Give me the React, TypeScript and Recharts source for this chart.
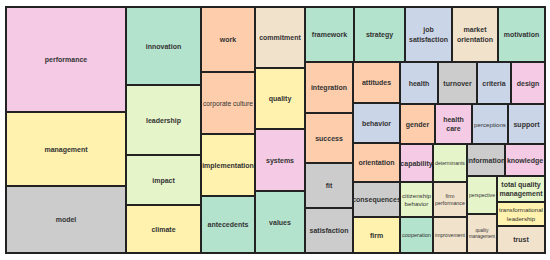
import React from 'react';
import { Treemap } from 'recharts';

// keyword terms in layout order (the treemap keeps data order, no sorting)
const terms = [
    'performance', 'management', 'model',
    'innovation', 'leadership', 'impact', 'climate',
    'work', 'corporate culture', 'implementation', 'antecedents',
    'commitment', 'quality', 'systems', 'values',
    'framework', 'strategy', 'job\nsatisfaction', 'market\norientation', 'motivation',
    'integration', 'success', 'fit', 'satisfaction',
    'attitudes', 'behavior', 'orientation', 'consequences', 'firm',
    'health', 'turnover', 'criteria', 'design',
    'gender', 'health\ncare', 'perceptions', 'support',
    'capability', 'citizenship\nbehavior', 'cooperation',
    'determinants', 'firm\nperformance', 'improvement',
    'information', 'knowledge',
    'perspective', 'quality\nmanagement',
    'total quality\nmanagement', 'transformational\nleadership', 'trust',
];

// relative weight of each term
const sizes = [
    12600, 8820, 8100,
    5850, 5250, 3750, 3600,
    3510, 3348, 3348, 3078,
    3050, 3050, 3100, 3100,
    2720, 2778, 2585, 2530, 2587,
    2448, 2400, 2160, 2160,
    1927, 1880, 1833, 1645, 1692,
    1596, 1638, 1428, 1428,
    1400, 1480, 1440, 1480,
    1254, 1155, 1188,
    1292, 1190, 1224,
    1216, 1280,
    1140, 1170,
    1248, 1152, 1296,
];

// cluster of each term
const clusters = [
    3, 5, 7,
    0, 4, 4, 5,
    1, 1, 5, 0,
    6, 5, 3, 0,
    0, 0, 2, 6, 0,
    1, 1, 7, 7,
    1, 2, 1, 7, 5,
    2, 7, 2, 3,
    1, 3, 2, 2,
    3, 4, 0,
    4, 6, 6,
    7, 3,
    4, 6,
    4, 5, 6,
];

const palette = ['#b3e2cd', '#fdcdac', '#cbd5e8', '#f4cae4', '#e6f5c9', '#fff2ae', '#f1e2cc', '#cccccc'];

const data = terms.map((name, i) => ({ name, size: sizes[i], cluster: clusters[i] }));

const FONT = '"Liberation Sans", Arial, sans-serif';
const ctx = typeof document !== 'undefined' ? document.createElement('canvas').getContext('2d') : null;

const textWidth = (s: string, weight: string, size: number) => {
    if (!ctx) return s.length * size * 0.56;
    ctx.font = `${weight} ${size}px ${FONT}`;
    return ctx.measureText(s).width;
};

const TermCell = (props: any) => {
    const { x, y, width, height, depth, index, name } = props;
    if (depth !== 1) return null;
    const cluster = props.cluster ?? clusters[index];
    const lines = String(name).split('\n');

    // bold 7px when it fits, otherwise shrink to the cell width
    let size = 7;
    let weight = 'bold';
    const boldW = Math.max(...lines.map((l) => textWidth(l, 'bold', 7)));
    if (boldW > width + 2) {
        weight = 'normal';
        const em = Math.max(...lines.map((l) => textWidth(l, 'normal', 10))) / 10;
        size = Math.min(7, (width - 4) / em);
    }
    const lh = size * 1.35;
    const cx = x + width / 2;
    const top = y + height / 2 - ((lines.length - 1) * lh) / 2;

    return (
        <g>
            <rect
                x={x}
                y={y}
                width={width}
                height={height}
                fill={palette[cluster]}
                stroke="#222"
                strokeWidth={2}
            />
            {lines.map((l, i) => (
                <text
                    key={i}
                    x={cx}
                    y={top + i * lh}
                    textAnchor="middle"
                    dominantBaseline="central"
                    fontFamily={FONT}
                    fontSize={size}
                    fontWeight={weight}
                    fill="#333"
                >
                    {l}
                </text>
            ))}
        </g>
    );
};

export default function App() {
    return (
        <div
            style={{
                position: 'absolute',
                left: 5,
                top: 6,
                width: 539,
                height: 246,
                border: '1px solid #222',
            }}
        >
            <Treemap
                width={539}
                height={246}
                data={data}
                dataKey="size"
                nameKey="name"
                aspectRatio={1.04}
                isAnimationActive={false}
                content={<TermCell />}
            />
        </div>
    );
}
